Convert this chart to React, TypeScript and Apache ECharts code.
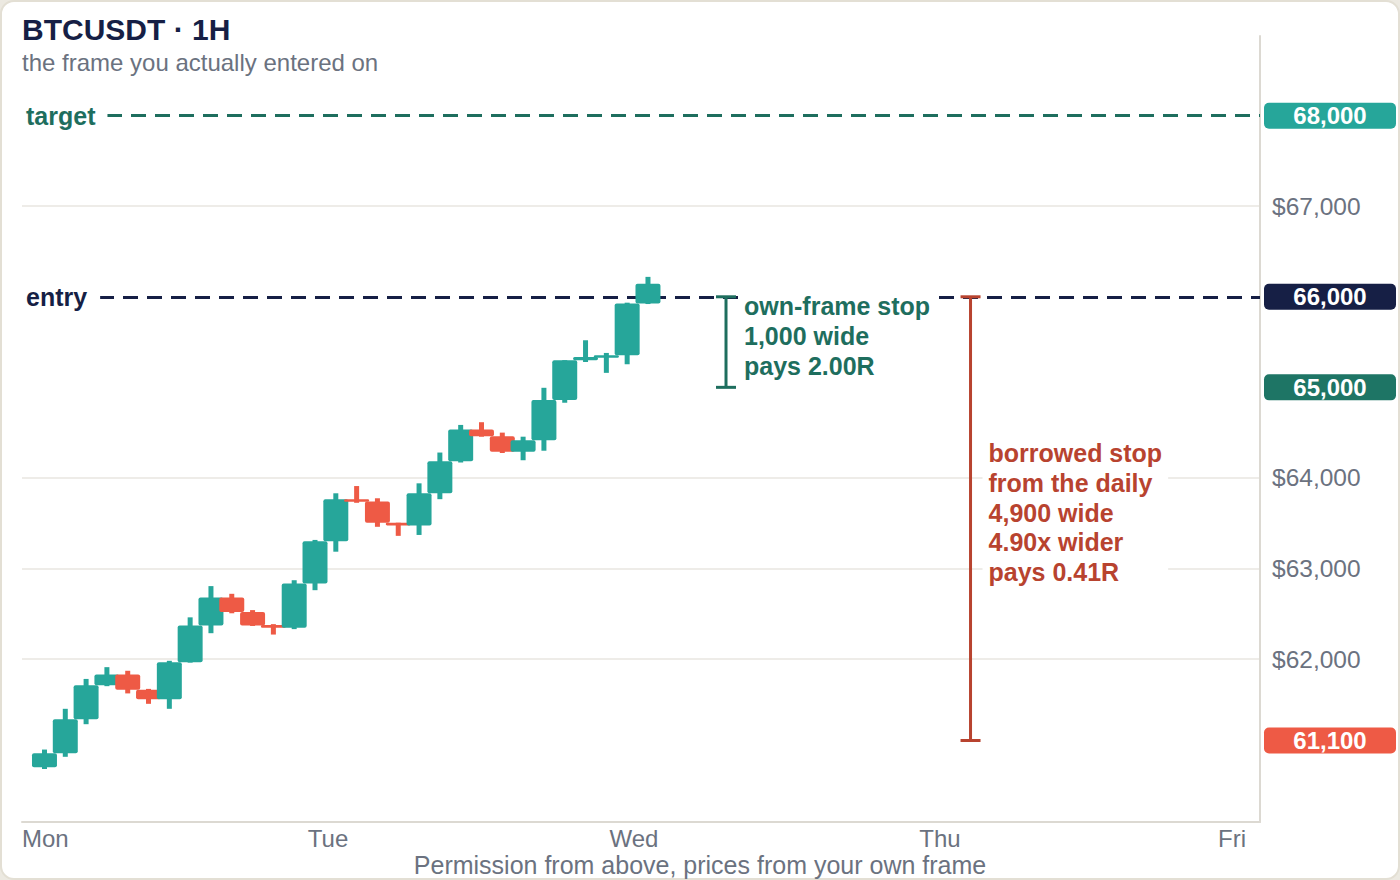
import { useEffect, useRef } from 'react';
import * as echarts from 'echarts';

const FONT = '"Liberation Sans", Arial, Helvetica, sans-serif';

const UP = '#26a69a';
const DOWN = '#ee5a45';
const NAVY = '#161f45';
const TEAL_DARK = '#1e6e5e';
const TEAL_BADGE = '#1e7565';
const RUST = '#b8432f';
const GREY = '#6b7280';
const AXIS = '#dcd9d2';
const GRID = '#eeece8';

const DAYS = ['Mon', 'Tue', 'Wed', 'Thu', 'Fri'];

// hourly candles
const OPEN = [60805, 60960, 61335, 61710, 61830, 61660, 61555, 61965, 62370, 62680, 62520, 62375, 62345, 62835, 63300, 63765, 63740, 63505, 63475, 63830, 64185, 64535, 64460, 64290, 64415, 64860, 65300, 65330, 65355, 65925];
const CLOSE = [60960, 61335, 61710, 61830, 61660, 61555, 61965, 62370, 62680, 62520, 62370, 62345, 62835, 63300, 63765, 63740, 63505, 63475, 63830, 64185, 64535, 64460, 64290, 64415, 64860, 65300, 65335, 65355, 65925, 66145];
const LOW = [60785, 60920, 61280, 61700, 61620, 61505, 61450, 61960, 62285, 62505, 62365, 62270, 62330, 62760, 63185, 63725, 63460, 63360, 63370, 63765, 64170, 64455, 64275, 64195, 64300, 64830, 65280, 65160, 65255, 65920];
const HIGH = [61000, 61450, 61780, 61910, 61870, 61670, 61980, 62460, 62805, 62720, 62540, 62385, 62870, 63315, 63830, 63910, 63775, 63505, 63940, 64280, 64585, 64615, 64500, 64455, 64995, 65300, 65520, 65380, 65935, 66220];

const TARGET = 68000;
const ENTRY = 66000;
const OWN_STOP = 65000;
const DAILY_STOP = 61100;

const GRID_PRICES = [62000, 63000, 64000, 67000];
const BADGE_VALUES = [TARGET, ENTRY, OWN_STOP, DAILY_STOP];
const BADGE_COLORS = [UP, NAVY, TEAL_BADGE, DOWN];

// stop brackets, x in candle slots
const STOP_X = [32.75, 44.5];
const STOP_FROM = [ENTRY, ENTRY];
const STOP_TO = [OWN_STOP, DAILY_STOP];
const STOP_COLOR = [TEAL_DARK, RUST];
const STOP_TEXT = [
  'own-frame stop\n1,000 wide\npays 2.00R',
  'borrowed stop\nfrom the daily\n4,900 wide\n4.90x wider\npays 0.41R',
];

const fmt = (v: number) => v.toLocaleString('en-US');

function levelLine(value: number, name: string, color: string, padRight: number, dashOffset: number) {
  return {
    yAxis: value,
    lineStyle: { color, type: [15, 9], dashOffset, width: 3 },
    label: {
      show: true,
      position: 'insideStart',
      distance: 0,
      formatter: name,
      color,
      fontSize: 25,
      fontWeight: 'bold',
      fontFamily: FONT,
      backgroundColor: '#ffffff',
      padding: [4, padRight, 4, 4],
    },
  };
}

function buildOption() {
  const rich: Record<string, unknown> = {
    plain: { color: GREY, fontSize: 24.5, fontFamily: FONT, padding: [0, 0, 0, 8] },
  };
  BADGE_VALUES.forEach((_, i) => {
    rich['b' + i] = {
      backgroundColor: BADGE_COLORS[i],
      color: '#ffffff',
      fontSize: 24,
      fontWeight: 'bold',
      fontFamily: FONT,
      width: 132,
      height: 26,
      lineHeight: 26,
      align: 'center',
      borderRadius: 5,
    };
  });

  return {
    animation: false,
    textStyle: { fontFamily: FONT },
    title: [
      {
        text: 'BTCUSDT · 1H',
        subtext: 'the frame you actually entered on',
        left: 22,
        top: 14,
        itemGap: 6,
        padding: 0,
        textStyle: { fontSize: 30, fontWeight: 'bold', color: NAVY, fontFamily: FONT, lineHeight: 30 },
        subtextStyle: { fontSize: 24, color: GREY, fontFamily: FONT, lineHeight: 24 },
      },
      {
        text: 'Permission from above, prices from your own frame',
        left: 'center',
        top: 852,
        padding: 0,
        textStyle: { fontSize: 25, fontWeight: 'normal', color: GREY, fontFamily: FONT, lineHeight: 25 },
      },
    ],
    grid: [
      { left: 22, right: 140, top: 36, bottom: 58, outerBoundsMode: 'none' },
      { left: 22, right: 154, top: 36, bottom: 58, outerBoundsMode: 'none' },
    ],
    xAxis: [
      {
        type: 'value',
        gridIndex: 0,
        min: -1.08,
        max: 58.41,
        axisLine: { show: true, onZero: false, lineStyle: { color: AXIS, width: 2 } },
        axisTick: { show: false },
        axisLabel: { show: false },
        splitLine: { show: false },
      },
      {
        type: 'value',
        gridIndex: 1,
        min: 0,
        max: 4,
        interval: 1,
        axisLine: { show: false },
        axisTick: { show: false },
        splitLine: { show: false },
        axisLabel: {
          formatter: (v: number) => DAYS[v] ?? '',
          color: GREY,
          fontSize: 24,
          fontFamily: FONT,
          margin: 4,
          alignMinLabel: 'left',
          alignMaxLabel: 'right',
        },
      },
    ],
    yAxis: [
      {
        type: 'value',
        gridIndex: 0,
        position: 'right',
        min: 60200,
        max: 68880,
        axisLine: { show: true, onZero: false, lineStyle: { color: AXIS, width: 2 } },
        axisTick: { show: false, customValues: GRID_PRICES },
        splitLine: { show: true, lineStyle: { color: GRID, width: 2 } },
        axisLabel: {
          customValues: [...GRID_PRICES, ...BADGE_VALUES].sort((a, b) => a - b),
          margin: 4,
          formatter: (v: number) => {
            const b = BADGE_VALUES.indexOf(v);
            return b >= 0 ? `{b${b}|${fmt(v)}}` : `{plain|$${fmt(v)}}`;
          },
          rich,
        },
      },
      { type: 'value', gridIndex: 1, min: 60200, max: 68880, show: false },
    ],
    series: [
      {
        name: 'levels',
        type: 'line',
        xAxisIndex: 0,
        yAxisIndex: 0,
        data: [],
        markLine: {
          silent: true,
          symbol: ['none', 'none'],
          z: 3,
          data: [
            levelLine(TARGET, 'target', TEAL_DARK, 12, 11),
            levelLine(ENTRY, 'entry', NAVY, 13, 18.7),
          ],
        },
      },
      {
        name: 'BTCUSDT',
        type: 'custom',
        xAxisIndex: 0,
        yAxisIndex: 0,
        z: 4,
        encode: { x: 0, y: [1, 2, 3, 4] },
        data: OPEN.map((o, i) => [i, o, CLOSE[i], LOW[i], HIGH[i]]),
        renderItem: (_params: unknown, api: any) => {
          const x = api.value(0);
          const open = api.value(1);
          const close = api.value(2);
          const pO = api.coord([x, open]);
          const pC = api.coord([x, close]);
          const pL = api.coord([x, api.value(3)]);
          const pH = api.coord([x, api.value(4)]);
          const bodyW = api.size([1, 0])[0] * 1.2;
          const wickW = 5;
          const top = Math.min(pO[1], pC[1]);
          const h = Math.max(Math.abs(pO[1] - pC[1]), 2.5);
          const color = close >= open ? UP : DOWN;
          return {
            type: 'group',
            children: [
              {
                type: 'rect',
                shape: { x: pO[0] - wickW / 2, y: pH[1], width: wickW, height: pL[1] - pH[1] },
                style: { fill: color },
              },
              {
                type: 'rect',
                shape: { x: pO[0] - bodyW / 2, y: top, width: bodyW, height: h, r: 2 },
                style: { fill: color },
              },
            ],
          };
        },
      },
      {
        name: 'stops',
        type: 'custom',
        xAxisIndex: 0,
        yAxisIndex: 0,
        z: 10,
        encode: { x: 0, y: [1, 2] },
        data: STOP_X.map((x, i) => [x, STOP_FROM[i], STOP_TO[i]]),
        renderItem: (params: any, api: any) => {
          const i = params.dataIndex;
          const a = api.coord([api.value(0), api.value(1)]);
          const b = api.coord([api.value(0), api.value(2)]);
          const color = STOP_COLOR[i];
          const cap = 10;
          const lineStyle = { stroke: color, lineWidth: 3 };
          return {
            type: 'group',
            children: [
              { type: 'line', shape: { x1: a[0], y1: a[1], x2: b[0], y2: b[1] }, style: lineStyle },
              { type: 'line', shape: { x1: a[0] - cap, y1: a[1], x2: a[0] + cap, y2: a[1] }, style: lineStyle },
              { type: 'line', shape: { x1: b[0] - cap, y1: b[1], x2: b[0] + cap, y2: b[1] }, style: lineStyle },
              {
                type: 'text',
                x: a[0] + 12,
                y: (a[1] + b[1]) / 2 - 6,
                style: {
                  text: STOP_TEXT[i],
                  fill: color,
                  fontSize: 25,
                  fontWeight: 'bold',
                  fontFamily: FONT,
                  lineHeight: 29.7,
                  align: 'left',
                  verticalAlign: 'middle',
                  backgroundColor: '#ffffff',
                  padding: [4, 6, 4, 6],
                },
              },
            ],
          };
        },
      },
    ],
  };
}

export default function App() {
  const chartRef = useRef<HTMLDivElement>(null);

  useEffect(() => {
    if (!chartRef.current) return;
    const chart = echarts.init(chartRef.current, undefined, { renderer: 'svg' });
    chart.setOption(buildOption());
    return () => {
      chart.dispose();
    };
  }, []);

  return (
    <div style={{ position: 'fixed', left: 0, top: 0, width: 1400, height: 880, background: '#ece9e1' }}>
      <div
        style={{
          position: 'absolute',
          left: 0,
          top: 0,
          width: 1400,
          height: 880,
          boxSizing: 'border-box',
          background: '#ffffff',
          border: '2px solid #e3dfd4',
          borderRadius: 14,
        }}
      />
      <div ref={chartRef} style={{ position: 'absolute', left: 0, top: 0, width: 1400, height: 880 }} />
    </div>
  );
}
